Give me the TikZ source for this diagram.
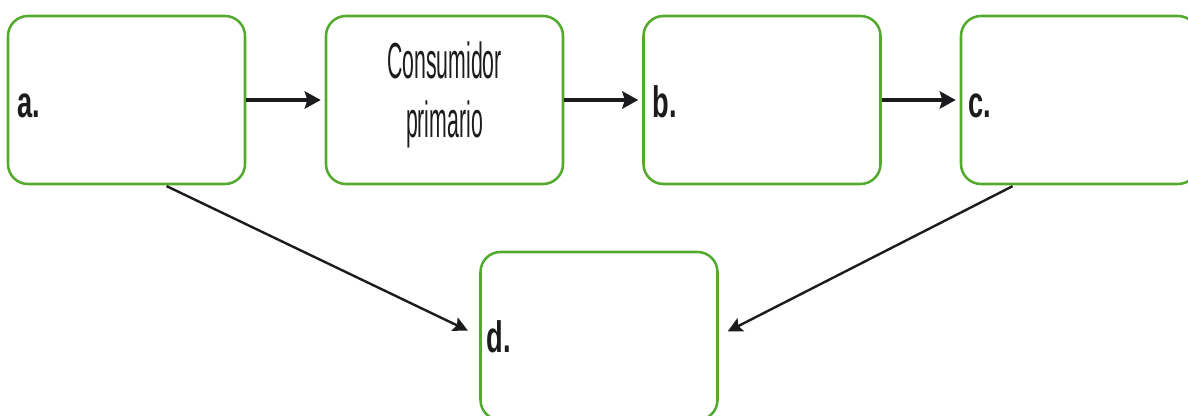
\documentclass[tikz,border=0pt]{standalone}
\usepackage{fontspec}
\setmainfont{Liberation Sans}
\newfontfamily\condfont[FakeStretch=0.42]{Liberation Sans}
\newfontfamily\labfont[FakeStretch=0.62]{Liberation Sans Bold}
\usetikzlibrary{arrows.meta,calc}
\definecolor{boxgreen}{RGB}{84,170,46}
\definecolor{arrowink}{RGB}{28,28,30}
\tikzset{
  chainbox/.style={draw=boxgreen, line width=1.9pt, rounded corners=15pt,
    minimum width=177.75pt, minimum height=126pt, inner sep=0pt},
  boxlabel/.style={anchor=base west, inner sep=0pt, font=\labfont\fontsize{33}{36}\selectfont, text=arrowink},
  flow/.style={draw=arrowink, line width=3pt, -{Stealth[length=12pt,width=13pt,inset=2pt]}},
  feed/.style={draw=arrowink, line width=1.8pt, -{Stealth[length=11pt,width=11pt,inset=2pt]}}
}
\begin{document}
\begin{tikzpicture}[x=0.75pt,y=-0.75pt]
  \useasboundingbox (0,0) rectangle (1188,416);
  \clip (0,0) rectangle (1188,416);
  \fill[white] (0,0) rectangle (1188,416);
  % boxes of the food chain
  \node[chainbox] (a) at (126.5,100) {};
  \node[chainbox] (cons) at (444.5,100) {};
  \node[chainbox] (b) at (762,100) {};
  \node[chainbox] (c) at (1079.5,100) {};
  \node[chainbox] (d) at (599,336) {};
  % text of the boxes
  \node[inner sep=0pt, font=\condfont\fontsize{38}{44}\selectfont, align=center, text=arrowink] (tcons) at ($(cons.center)+(0,-5)$) {Consumidor\\primario};
  \node[boxlabel] (la) at ($(a.west)+(10,18)$) {a.};
  \node[boxlabel] (lb) at ($(b.west)+(10,18)$) {b.};
  \node[boxlabel] (lc) at ($(c.west)+(8,18)$) {c.};
  \node[boxlabel] (ld) at ($(d.west)+(7,17)$) {d.};
  % arrows along the chain
  \draw[flow, shorten >=3pt] (a.east) -- (cons.west);
  \draw[flow, shorten >=3pt] (cons.east) -- (b.west);
  \draw[flow, shorten >=3pt] (b.east) -- (c.west);
  % arrows to the decomposers
  \draw[feed, shorten <=1.5pt, shorten >=9.5pt] ($(a.south west)!0.66!(a.south east)$) -- (d.west);
  \draw[feed, shorten <=1.5pt, shorten >=7.5pt] ($(c.south west)!0.228!(c.south east)$) -- (d.east);
\end{tikzpicture}
\end{document}
